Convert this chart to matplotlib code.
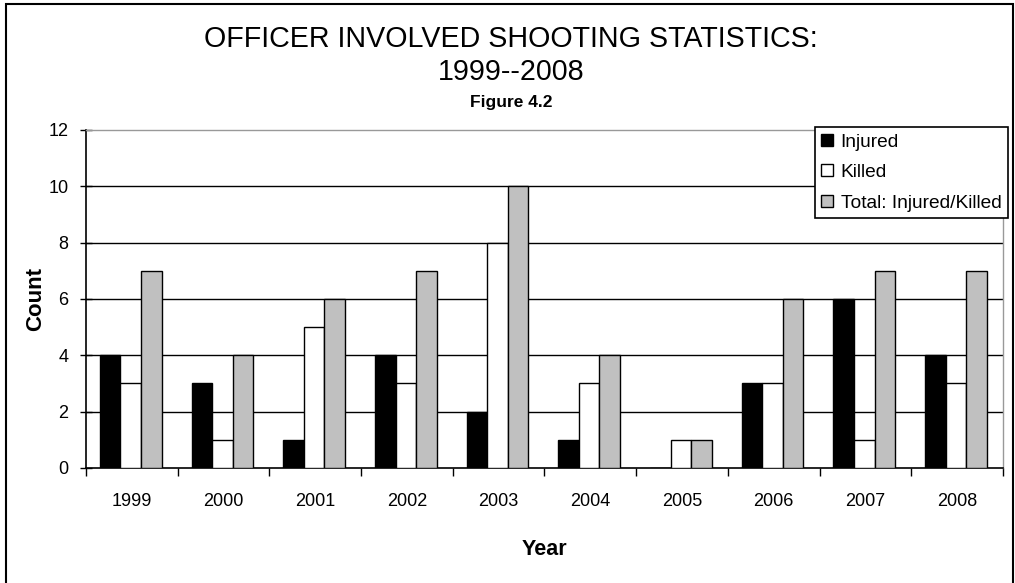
import numpy as np
import matplotlib
matplotlib.use("Agg")
import matplotlib.pyplot as plt
from matplotlib.patches import Rectangle

# data
years = ["1999", "2000", "2001", "2002", "2003", "2004", "2005", "2006", "2007", "2008"]
injured = [4, 3, 1, 4, 2, 1, 0, 3, 6, 4]
killed = [3, 1, 5, 3, 8, 3, 1, 3, 1, 3]
total = [7, 4, 6, 7, 10, 4, 1, 6, 7, 7]

plt.rcParams["font.family"] = ["Liberation Sans", "DejaVu Sans"]

fig = plt.figure(figsize=(10.15, 5.83), dpi=100)
ax = fig.add_axes([0.0847, 0.1973, 0.9034, 0.5798])

x = np.arange(len(years))
w = 0.224
ax.bar(x - w - 0.012, injured, w, color="black", edgecolor="black", lw=1, label="Injured", zorder=3)
ax.bar(x - 0.012, killed, w, color="white", edgecolor="black", lw=1, label="Killed", zorder=3)
ax.bar(x + w - 0.012, total, w, color="#c0c0c0", edgecolor="black", lw=1,
       label="Total: Injured/Killed", zorder=3)

ax.set_xlim(-0.5, len(years) - 0.5)
ax.set_ylim(0, 12)
ax.set_yticks(range(0, 13, 2))
for yv in range(2, 12, 2):
    ax.axhline(yv, color="black", lw=1, zorder=1)

# ticks at category boundaries, labels at centres
ax.set_xticks(np.arange(-0.5, len(years), 1.0))
ax.set_xticklabels([])
ax.set_xticks(x, minor=True)
ax.set_xticklabels(years, minor=True)
ax.tick_params(axis="x", which="major", direction="out", length=6, width=1, color="black")
ax.tick_params(axis="x", which="minor", length=0, pad=18, labelsize=13)
ax.tick_params(axis="y", direction="inout", length=9, width=1, pad=8, labelsize=13)

for side in ["top", "right"]:
    ax.spines[side].set_color("#999999")
    ax.spines[side].set_linewidth(1)
for side in ["left", "bottom"]:
    ax.spines[side].set_color("black")
    ax.spines[side].set_linewidth(1.2)

ax.set_xlabel("Year", fontsize=15.5, fontweight="bold", labelpad=21)
ax.set_ylabel("Count", fontsize=16, fontweight="bold", labelpad=2)

fig.text(0.5034, 0.933, "OFFICER INVOLVED SHOOTING STATISTICS:", ha="center", va="center",
         fontsize=20.6)
fig.text(0.5034, 0.8765, "1999--2008", ha="center", va="center", fontsize=20.6)
fig.text(0.5034, 0.8244, "Figure 4.2", ha="center", va="center", fontsize=12.5,
         fontweight="bold")

leg = ax.legend(loc="upper right", bbox_to_anchor=(1008 / 1015, 1 - 127 / 583),
                bbox_transform=fig.transFigure, fancybox=False, framealpha=1,
                edgecolor="black", fontsize=13.8, handlelength=0.6, handleheight=0.6,
                handletextpad=0.4, labelspacing=0.7, borderpad=0.35, borderaxespad=0)
leg.get_frame().set_linewidth(1.2)
leg.set_zorder(5)

# outer chart border (bottom edge falls outside the image)
fig.add_artist(Rectangle((6 / 1015, -0.05), 1007 / 1015, 1.05 - 4 / 583,
                         transform=fig.transFigure, fill=False, edgecolor="black", lw=1.5))

fig.savefig("out.png", dpi=100)
